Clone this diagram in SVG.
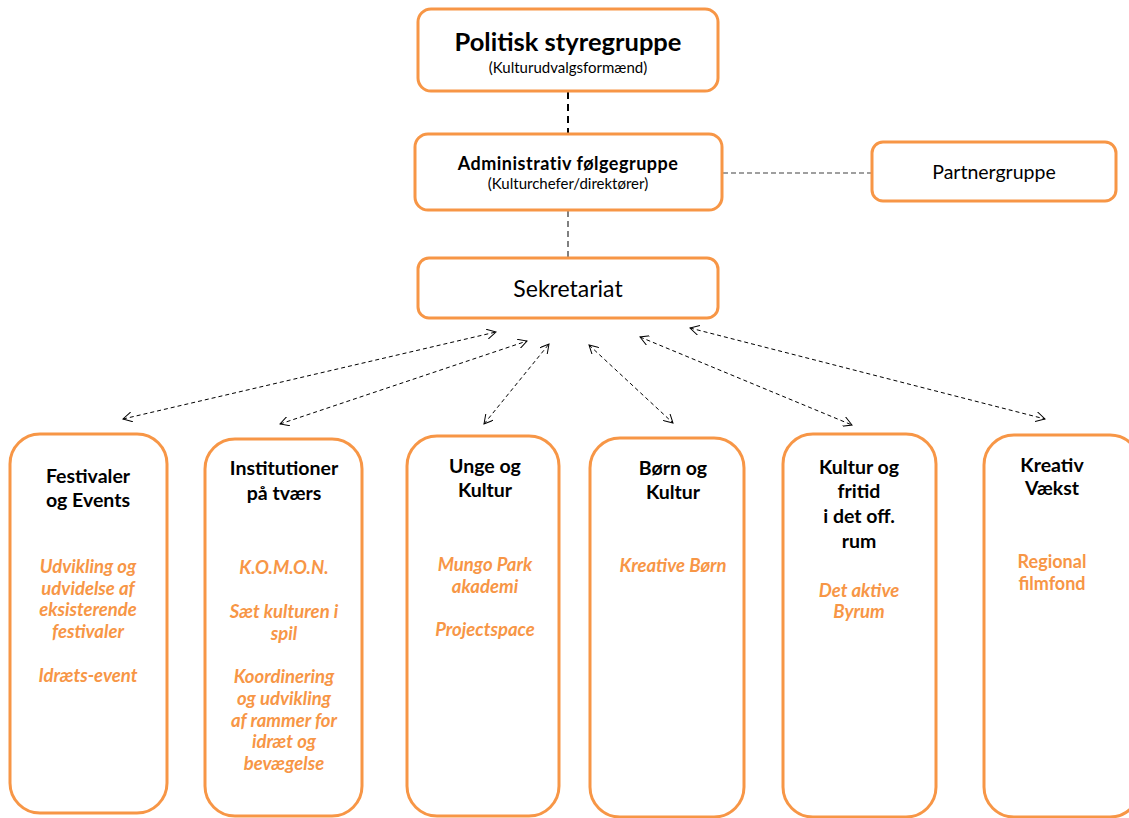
<svg xmlns="http://www.w3.org/2000/svg" width="1129" height="818" viewBox="0 0 1129 818">
<style>
.box{fill:#fff;stroke:#F79646;stroke-width:3}
.t{font-family:Lato,"Open Sans","Liberation Sans",sans-serif;text-anchor:middle;fill:#000}
.h{font-weight:bold;font-size:19.5px}
.o{font-weight:bold;font-style:italic;font-size:18.5px;fill:#F79646}
.ob{font-weight:bold;font-size:18px;fill:#F79646}
.conn{fill:none;stroke:#000;stroke-width:1;stroke-dasharray:4 3}
</style>
<defs>
<marker id="ah" viewBox="0 0 10 10" refX="9" refY="5" markerWidth="10" markerHeight="10" markerUnits="userSpaceOnUse" orient="auto-start-reverse">
<path d="M0,0 L9,5 L0,10" fill="none" stroke="#000" stroke-width="1"/>
</marker>
</defs>
<g id="connectors">
<line x1="568" y1="92" x2="568" y2="134" stroke="#000" stroke-width="2" stroke-dasharray="7 5"/>
<line x1="568" y1="211" x2="568" y2="257" stroke="#808080" stroke-width="2" stroke-dasharray="6 4"/>
<line x1="723" y1="173" x2="871" y2="173" stroke="#808080" stroke-width="1.5" stroke-dasharray="5 3"/>
<line class="conn" x1="123" y1="419" x2="496" y2="332" marker-start="url(#ah)" marker-end="url(#ah)"/>
<line class="conn" x1="280" y1="424" x2="527" y2="341" marker-start="url(#ah)" marker-end="url(#ah)"/>
<line class="conn" x1="484" y1="424" x2="549" y2="344" marker-start="url(#ah)" marker-end="url(#ah)"/>
<line class="conn" x1="589" y1="345" x2="673" y2="423" marker-start="url(#ah)" marker-end="url(#ah)"/>
<line class="conn" x1="640" y1="337" x2="852" y2="425" marker-start="url(#ah)" marker-end="url(#ah)"/>
<line class="conn" x1="690" y1="328" x2="1045" y2="419" marker-start="url(#ah)" marker-end="url(#ah)"/>
</g>
<g id="politisk">
<rect class="box" x="418" y="9" width="300" height="82" rx="13"/>
<text class="t" x="568" y="51" font-weight="bold" font-size="25.5">Politisk styregruppe</text>
<text class="t" x="568" y="73" font-size="15">(Kulturudvalgsformænd)</text>
</g>
<g id="admin">
<rect class="box" x="415" y="134" width="307" height="76" rx="13"/>
<text class="t" x="568" y="170" font-weight="bold" font-size="18" letter-spacing="0.5">Administrativ følgegruppe</text>
<text class="t" x="568" y="189" font-size="15">(Kulturchefer/direktører)</text>
</g>
<g id="partner">
<rect class="box" x="872" y="142" width="244" height="59" rx="11"/>
<text class="t" x="994" y="179" font-size="19.5">Partnergruppe</text>
</g>
<g id="sekretariat">
<rect class="box" x="418" y="258" width="300" height="60" rx="11"/>
<text class="t" x="568" y="297" font-size="23">Sekretariat</text>
</g>
<g id="festivaler">
<rect class="box" x="10" y="434" width="157" height="379" rx="30"/>
<text class="t h" x="88" y="483">Festivaler</text>
<text class="t h" x="88" y="507">og Events</text>
<text class="t o" x="88" y="573">Udvikling og</text>
<text class="t o" x="88" y="595">udvidelse af</text>
<text class="t o" x="88" y="616">eksisterende</text>
<text class="t o" x="88" y="638">festivaler</text>
<text class="t o" x="88" y="682">Idræts-event</text>
</g>
<g id="institutioner">
<rect class="box" x="205" y="439" width="157" height="377" rx="30"/>
<text class="t h" x="284" y="475">Institutioner</text>
<text class="t h" x="284" y="500">på tværs</text>
<text class="t o" x="284" y="574">K.O.M.O.N.</text>
<text class="t o" x="284" y="618">Sæt kulturen i</text>
<text class="t o" x="284" y="640">spil</text>
<text class="t o" x="284" y="683">Koordinering</text>
<text class="t o" x="284" y="705">og udvikling</text>
<text class="t o" x="284" y="727">af rammer for</text>
<text class="t o" x="284" y="748">idræt og</text>
<text class="t o" x="284" y="770">bevægelse</text>
</g>
<g id="unge">
<rect class="box" x="407" y="436" width="152" height="380" rx="30"/>
<text class="t h" x="485" y="473">Unge og</text>
<text class="t h" x="485" y="497">Kultur</text>
<text class="t o" x="485" y="571">Mungo Park</text>
<text class="t o" x="485" y="593">akademi</text>
<text class="t o" x="485" y="636">Projectspace</text>
</g>
<g id="boern">
<rect class="box" x="590" y="438" width="154" height="379" rx="30"/>
<text class="t h" x="673" y="475">Børn og</text>
<text class="t h" x="673" y="499">Kultur</text>
<text class="t o" x="673" y="572">Kreative Børn</text>
</g>
<g id="kultur-fritid">
<rect class="box" x="783" y="434" width="153" height="383" rx="30"/>
<text class="t h" x="859" y="474">Kultur og</text>
<text class="t h" x="859" y="498">fritid</text>
<text class="t h" x="859" y="523">i det off.</text>
<text class="t h" x="859" y="548">rum</text>
<text class="t o" x="859" y="597">Det aktive</text>
<text class="t o" x="859" y="618">Byrum</text>
</g>
<g id="kreativ">
<rect class="box" x="984" y="435" width="156" height="382" rx="30"/>
<text class="t h" x="1052" y="472">Kreativ</text>
<text class="t h" x="1052" y="495">Vækst</text>
<text class="t ob" x="1052" y="568">Regional</text>
<text class="t ob" x="1052" y="590">filmfond</text>
</g>
</svg>
